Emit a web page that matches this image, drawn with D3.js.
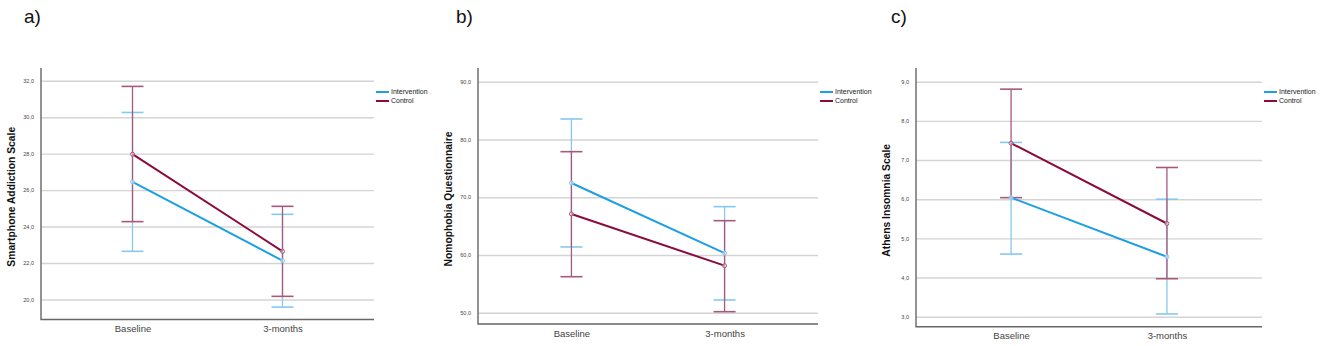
<!DOCTYPE html>
<html>
<head>
  <meta charset="utf-8">
  <title>Intervention vs Control</title>
  <style>
    body { margin: 0; background: #fff; }
    svg text { font-family: 'Liberation Sans', Arial, sans-serif; }
    .panel-label { font-size: 19px; fill: #111; }
    .y-title { font-size: 10.3px; font-weight: bold; fill: #111; }
    .y-tick { font-size: 5.5px; fill: #444; }
    .x-tick { font-size: 9.5px; fill: #444; }
    .legend-text { font-size: 7px; fill: #222; }
  </style>
</head>
<body>
  <div id="chart"></div>

  <script src="https://d3js.org/d3.v7.min.js"></script>
  <script>
    // Data
    const timepoints = ["Baseline", "3-months"];
    const groups = ["Intervention", "Control"];
    const groupColors = ["#1e9fe3", "#8a0b3c"];
    const ciColors = ["#85c9ee", "#a8587c"];

    // a) Smartphone Addiction Scale: [group][timepoint]
    const sasMeans = [[26.45, 22.13], [27.97, 22.64]];
    const sasLower = [[22.64, 19.58], [24.27, 20.17]];
    const sasUpper = [[30.26, 24.67], [31.69, 25.11]];
    const sasTicks = [20, 22, 24, 26, 28, 30, 32];

    // b) Nomophobia Questionnaire
    const nmpMeans = [[72.46, 60.3], [67.1, 58.14]];
    const nmpLower = [[61.38, 52.2], [56.23, 50.17]];
    const nmpUpper = [[83.54, 68.36], [77.88, 65.93]];
    const nmpTicks = [50, 60, 70, 80, 90];

    // c) Athens Insomnia Scale
    const aisMeans = [[6.04, 4.53], [7.43, 5.38]];
    const aisLower = [[4.60, 3.07], [6.04, 3.97]];
    const aisUpper = [[7.45, 6.0], [8.81, 6.81]];
    const aisTicks = [3, 4, 5, 6, 7, 8, 9];

    const panels = [
      { label: "a)", title: "Smartphone Addiction Scale", means: sasMeans, lower: sasLower, upper: sasUpper,
        ticks: sasTicks, domain: [18.9, 32.7], x0: 41, x1: 374, y0: 68, y1: 319.5, labelX: 24 },
      { label: "b)", title: "Nomophobia Questionnaire", means: nmpMeans, lower: nmpLower, upper: nmpUpper,
        ticks: nmpTicks, domain: [48.04, 92.37], x0: 478, x1: 818, y0: 68, y1: 324, labelX: 456 },
      { label: "c)", title: "Athens Insomnia Scale", means: aisMeans, lower: aisLower, upper: aisUpper,
        ticks: aisTicks, domain: [2.745, 9.35], x0: 916, x1: 1262, y0: 68, y1: 326.7, labelX: 891 }
    ];

    const svg = d3.select("#chart")
      .append("svg")
      .attr("width", 1325)
      .attr("height", 346);

    const fmt = v => d3.format(".1f")(v).replace(".", ",");

    panels.forEach(p => {
      const g = svg.append("g");

      const x = d3.scalePoint()
        .domain(timepoints)
        .range([p.x0, p.x1])
        .padding(0.61);

      const y = d3.scaleLinear()
        .domain(p.domain)
        .range([p.y1, p.y0]);

      // panel letter
      g.append("text")
        .attr("class", "panel-label")
        .attr("x", p.labelX)
        .attr("y", 23)
        .text(p.label);

      // gridlines
      g.append("g")
        .attr("transform", `translate(${p.x0},0)`)
        .call(d3.axisLeft(y).tickValues(p.ticks).tickSize(-(p.x1 - p.x0)).tickFormat(""))
        .call(s => s.select(".domain").remove())
        .call(s => s.selectAll("line").attr("stroke", "#d4d4d4").attr("stroke-width", 1.4));

      // y tick labels
      g.append("g")
        .attr("transform", `translate(${p.x0},0)`)
        .call(d3.axisLeft(y).tickValues(p.ticks).tickSize(0).tickPadding(7).tickFormat(fmt))
        .call(s => s.select(".domain").remove())
        .call(s => s.selectAll("text").attr("class", "y-tick").attr("font-family", null).attr("font-size", null).attr("fill", null));

      // x axis
      g.append("g")
        .attr("transform", `translate(0,${p.y1})`)
        .call(d3.axisBottom(x).tickSize(0).tickPadding(6))
        .call(s => s.select(".domain").remove())
        .call(s => s.selectAll("text").attr("class", "x-tick").attr("font-family", null).attr("font-size", null).attr("fill", null));

      // axis lines
      g.append("path")
        .attr("d", `M${p.x0},${p.y0}V${p.y1}H${p.x1}`)
        .attr("fill", "none")
        .attr("stroke", "#666")
        .attr("stroke-width", 1.4);

      // y title
      const cy = (p.y0 + p.y1) / 2 + 3;
      g.append("text")
        .attr("class", "y-title")
        .attr("transform", `translate(${p.x0 - 26},${cy}) rotate(-90)`)
        .attr("text-anchor", "middle")
        .text(p.title);

      const capHalf = 11;

      groups.forEach((grp, gi) => {
        const rows = timepoints.map((t, ti) => ({
          t, mean: p.means[gi][ti], lo: p.lower[gi][ti], hi: p.upper[gi][ti]
        }));

        // error bars
        const eb = g.append("g")
          .attr("stroke", ciColors[gi])
          .attr("stroke-width", 1.3);

        eb.selectAll(".whisker")
          .data(rows)
          .join("line")
          .attr("x1", d => x(d.t))
          .attr("x2", d => x(d.t))
          .attr("y1", d => y(d.lo))
          .attr("y2", d => y(d.hi));

        eb.selectAll(".cap-hi")
          .data(rows)
          .join("line")
          .attr("class", "cap-hi")
          .attr("stroke-width", 1.6)
          .attr("x1", d => x(d.t) - capHalf)
          .attr("x2", d => x(d.t) + capHalf)
          .attr("y1", d => y(d.hi))
          .attr("y2", d => y(d.hi));

        eb.selectAll(".cap-lo")
          .data(rows)
          .join("line")
          .attr("class", "cap-lo")
          .attr("stroke-width", 1.6)
          .attr("x1", d => x(d.t) - capHalf)
          .attr("x2", d => x(d.t) + capHalf)
          .attr("y1", d => y(d.lo))
          .attr("y2", d => y(d.lo));
      });

      groups.forEach((grp, gi) => {
        const color = groupColors[gi];
        const rows = timepoints.map((t, ti) => ({ t, mean: p.means[gi][ti] }));

        // mean line
        g.append("path")
          .datum(rows)
          .attr("fill", "none")
          .attr("stroke", color)
          .attr("stroke-width", 2)
          .attr("d", d3.line().x(d => x(d.t)).y(d => y(d.mean)));

        // markers
        g.selectAll(null)
          .data(rows)
          .join("circle")
          .attr("cx", d => x(d.t))
          .attr("cy", d => y(d.mean))
          .attr("r", 2)
          .attr("fill", "#fff")
          .attr("fill-opacity", 0.5)
          .attr("stroke", ciColors[gi])
          .attr("stroke-width", 1);
      });

      // legend
      const lg = g.append("g")
        .attr("transform", `translate(${p.x1 + 2},${p.y0 + 24})`);
      groups.forEach((grp, gi) => {
        lg.append("line")
          .attr("x1", 0).attr("x2", 13)
          .attr("y1", gi * 9).attr("y2", gi * 9)
          .attr("stroke", groupColors[gi])
          .attr("stroke-width", 2);
        lg.append("text")
          .attr("class", "legend-text")
          .attr("x", 15)
          .attr("y", gi * 9)
          .attr("dy", "0.35em")
          .text(grp);
      });
    });
  </script>
</body>
</html>
